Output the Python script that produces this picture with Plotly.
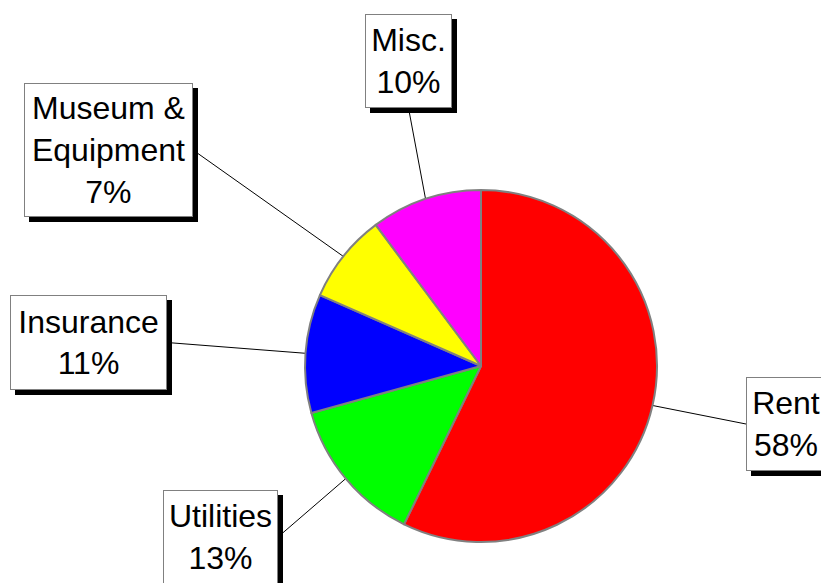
import math
import plotly.graph_objects as go

# ---- data ----
categories = ["Rent", "Utilities", "Insurance", "Museum &<br>Equipment", "Misc."]
values = [57.2, 13.5, 10.9, 8.2, 10.2]          # slice sizes
pct_labels = [58, 13, 11, 7, 10]                 # percentages printed in the boxes
colors = ["#FF0000", "#00FF00", "#0000FF", "#FFFF00", "#FF00FF"]

# ---- layout (pixels) ----
W, H = 821, 583
cx, cy, R = 481, 366, 176
# label boxes: left, top, width, height, side where leader attaches
boxes = [
    (746, 377, 80, 94, "left"),
    (163, 490, 115, 94, "right"),
    (10, 295, 157, 95, "right"),
    (24, 83, 169, 134, "right"),
    (365, 14, 87, 94, "bottom"),
]
SH = 5
FONT = dict(family="Liberation Sans, Arial, sans-serif", size=32, color="black")

def px2paper(x, y):
    return x / W, 1 - y / H

fig = go.Figure()
fig.add_trace(go.Pie(
    labels=[c.replace("<br>", " ") for c in categories], values=values, sort=False,
    direction="clockwise", rotation=0, textinfo="none", hoverinfo="label+percent",
    marker=dict(colors=colors, line=dict(color="#808080", width=2)),
    domain=dict(x=[(cx - R) / W, (cx + R) / W], y=[1 - (cy + R) / H, 1 - (cy - R) / H]),
    showlegend=False,
))

total = sum(values)
cum = 0.0
shapes = []
annotations = []
for cat, v, p, (bl, bt, bw, bh, side) in zip(categories, values, pct_labels, boxes):
    mid = (cum + v / 2) / total * 2 * math.pi
    cum += v
    ex, ey = cx + R * math.sin(mid), cy - R * math.cos(mid)
    if side == "left":
        ax, ay = bl, bt + bh / 2
    elif side == "right":
        ax, ay = bl + bw, bt + bh / 2
    else:
        ax, ay = bl + bw / 2, bt + bh
    x0, y0 = px2paper(ex, ey)
    x1, y1 = px2paper(ax, ay)
    shapes.append(dict(type="line", xref="paper", yref="paper", x0=x0, y0=y0, x1=x1, y1=y1,
                       line=dict(color="black", width=1), layer="below"))
    text = f"{cat}<br>{p}%"
    px_, py_ = px2paper(bl, bt)
    # shadow box (no text)
    annotations.append(dict(xref="paper", yref="paper", x=px_, y=py_, xanchor="left", yanchor="top",
                            text=" ", showarrow=False, font=FONT,
                            bgcolor="black", bordercolor="black", borderwidth=1, borderpad=0,
                            width=bw - 2, height=bh - 2, xshift=SH, yshift=-SH))
    annotations.append(dict(xref="paper", yref="paper", x=px_, y=py_, xanchor="left", yanchor="top",
                            text=text, showarrow=False, font=FONT,
                            bgcolor="white", bordercolor="#808080", borderwidth=1, borderpad=0,
                            width=bw - 2, height=bh - 2, align="center"))

fig.update_layout(width=W, height=H, margin=dict(l=0, r=0, t=0, b=0),
                  paper_bgcolor="white", plot_bgcolor="white",
                  shapes=shapes, annotations=annotations)
fig.write_html("out.html", config={"displayModeBar": False},
               post_script="document.body.style.margin='0';document.body.style.overflow='hidden';")
